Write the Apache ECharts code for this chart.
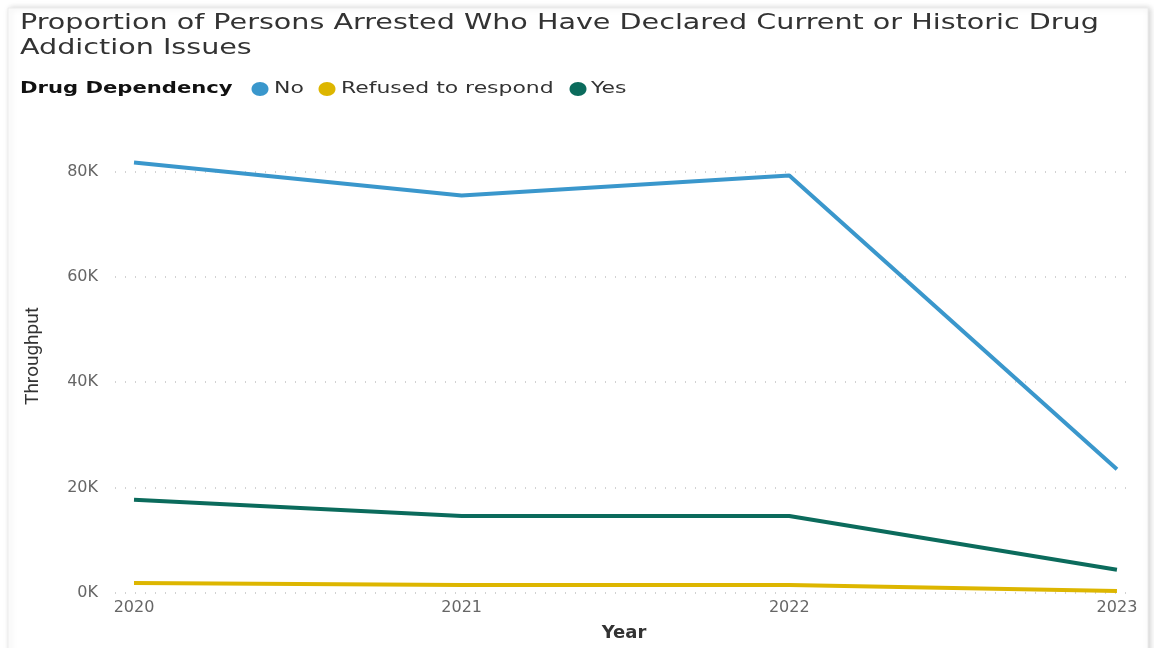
<!DOCTYPE html>
<html>
<head>
<meta charset="utf-8">
<script src="https://cdn.jsdelivr.net/npm/echarts@6/dist/echarts.min.js"></script>
<style>
  html, body { margin: 0; padding: 0; background: #fff; }
  #chart { width: 1154px; height: 648px; }
</style>
</head>
<body>
<div id="chart"></div>
<script>
const years = [2020, 2021, 2022, 2023];
const noValues = [81700, 75400, 79200, 23500];
const refusedValues = [1900, 1500, 1500, 400];
const yesValues = [17700, 14600, 14600, 4400];
const yTicks = [0, 20000, 40000, 60000, 80000];

const seriesNames = ["No", "Refused to respond", "Yes"];
const seriesColors = ["#3A97CC", "#DDB600", "#0B6B5C"];
const titleLines = [
  "Proportion of Persons Arrested Who Have Declared Current or Historic Drug",
  "Addiction Issues"
];
const legendTitle = "Drug Dependency";

const pair = vals => years.map((y, i) => [y, vals[i]]);

// the header text in the picture is drawn wide, so stretch it a little
function stretchedText(text, x, y, font, color, sx) {
  return {
    type: "text",
    x: x, y: y,
    scaleX: sx,
    style: { text: text, font: font, fill: color, verticalAlign: "middle" }
  };
}

const legendX = [260, 327, 578];
const legendTextX = [274, 341, 591];
const legendGraphic = [];
seriesNames.forEach((n, i) => {
  legendGraphic.push({
    type: "ellipse",
    shape: { cx: legendX[i], cy: 89, rx: 8.5, ry: 7 },
    style: { fill: seriesColors[i] }
  });
  legendGraphic.push(stretchedText(n, legendTextX[i], 89, "16px 'DejaVu Sans'", "#333", 1.37));
});

const chart = echarts.init(document.getElementById("chart"));

chart.setOption({
  animation: false,
  graphic: [{
    type: "rect",
    z: -10,
    shape: { x: 8, y: 8, width: 1140, height: 660 },
    style: { fill: "#fff", stroke: "#ececec", lineWidth: 1, shadowBlur: 6, shadowColor: "rgba(0,0,0,0.18)", shadowOffsetX: 2 }
  },
    stretchedText(titleLines[0], 20, 23, "22px 'DejaVu Sans'", "#333", 1.3),
    stretchedText(titleLines[1], 20, 48, "22px 'DejaVu Sans'", "#333", 1.3),
    stretchedText(legendTitle, 20, 89, "bold 16px 'DejaVu Sans'", "#111", 1.32)
  ].concat(legendGraphic),
  grid: { left: 115, right: 21, top: 145, bottom: 55, outerBoundsMode: "none" },
  xAxis: {
    type: "value",
    min: 2019.942,
    max: 2023.049,
    name: "Year",
    nameLocation: "middle",
    nameGap: 31,
    nameTextStyle: { fontFamily: "DejaVu Sans", fontSize: 18, fontWeight: "bold", color: "#333" },
    axisLine: { show: false },
    axisTick: { show: false },
    splitLine: { show: false },
    axisLabel: {
      customValues: years,
      formatter: v => String(v),
      margin: 7,
      fontFamily: "DejaVu Sans",
      fontSize: 16,
      color: "#666"
    }
  },
  yAxis: {
    type: "value",
    min: 0,
    max: 85000,
    interval: 20000,
    name: "Throughput",
    nameLocation: "middle",
    nameGap: 72,
    nameTextStyle: { fontFamily: "Roboto", fontSize: 19, color: "#333", padding: [0, 0, 0, 26] },
    axisLine: { show: false },
    axisTick: { show: false },
    axisLabel: {
      customValues: yTicks,
      formatter: v => (v / 1000) + "K",
      margin: 17,
      fontFamily: "DejaVu Sans",
      fontSize: 16,
      color: "#666"
    },
    splitLine: {
      showMaxLine: false,
      lineStyle: { color: "#c4c4c4", type: [1, 9], width: 1.5 }
    }
  },
  series: [
    { name: seriesNames[0], type: "line", data: pair(noValues), color: seriesColors[0], showSymbol: false, lineStyle: { width: 4 } },
    { name: seriesNames[1], type: "line", data: pair(refusedValues), color: seriesColors[1], showSymbol: false, lineStyle: { width: 4 } },
    { name: seriesNames[2], type: "line", data: pair(yesValues), color: seriesColors[2], showSymbol: false, lineStyle: { width: 4 } }
  ]
});
</script>
</body>
</html>
